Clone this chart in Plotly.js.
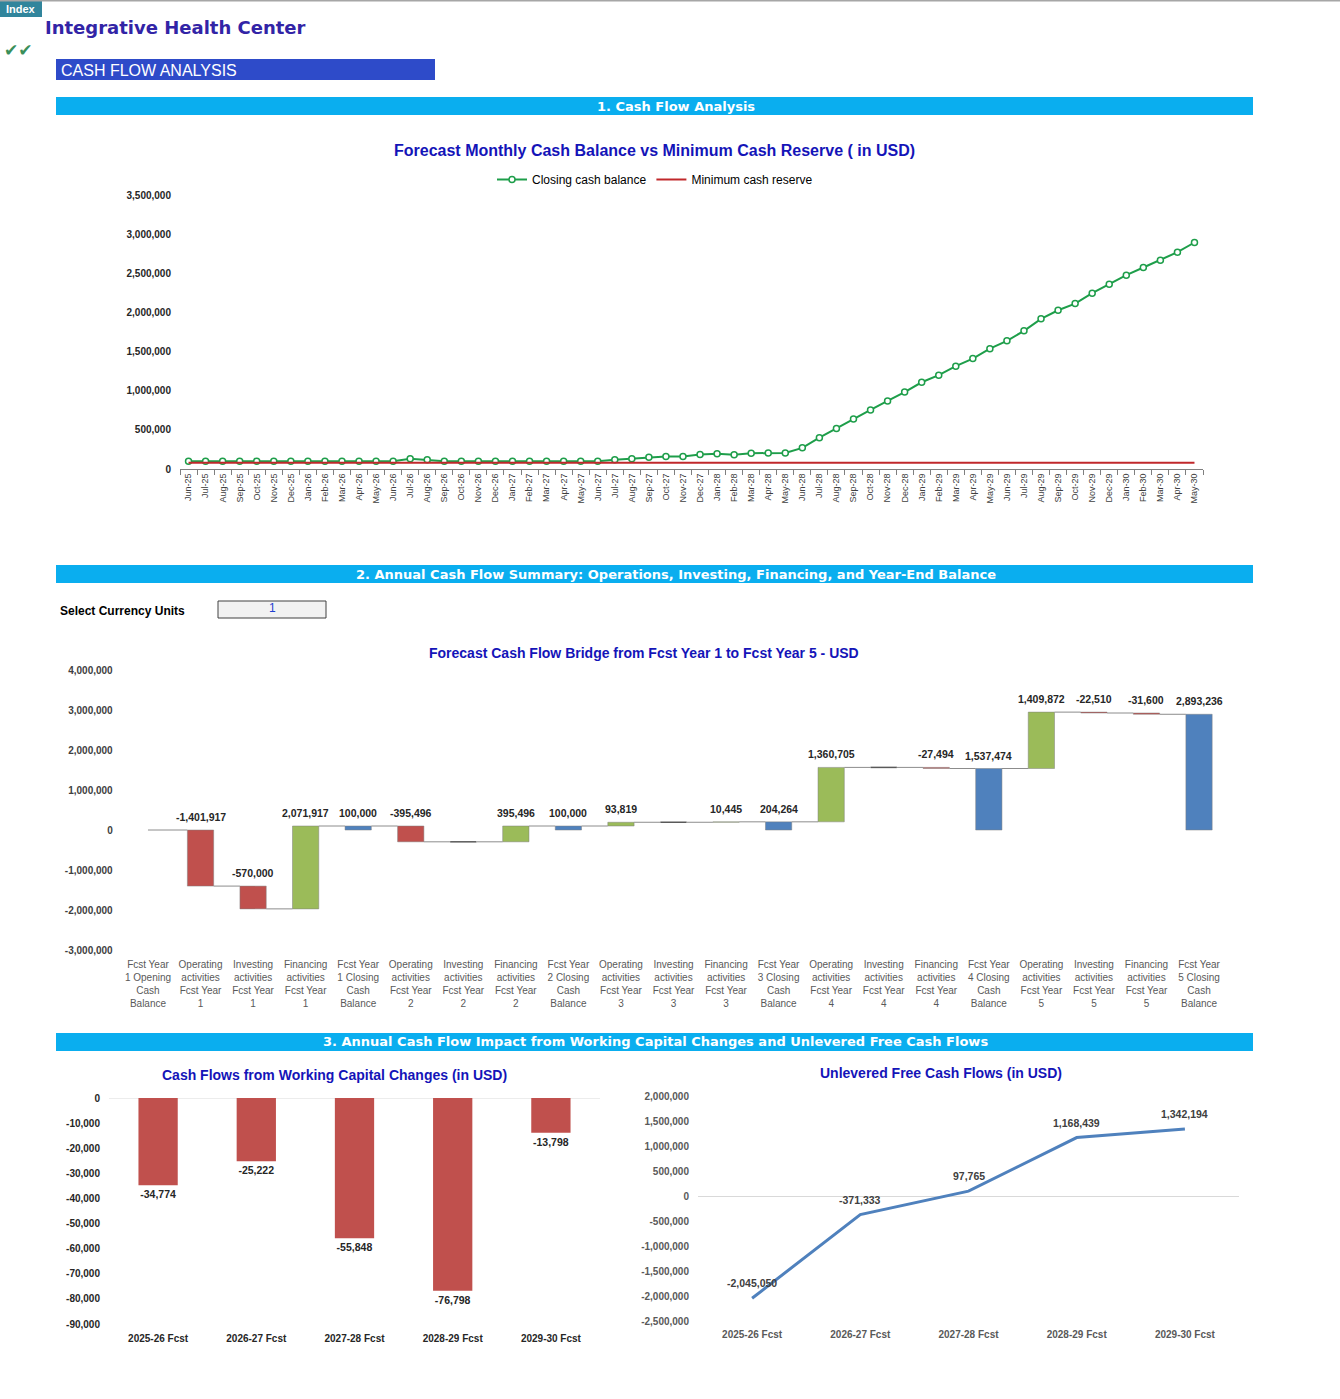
<!DOCTYPE html>
<html><head><meta charset="utf-8">
<script src="https://cdn.plot.ly/plotly-3.0.1.min.js"></script>
<style>html,body{margin:0;padding:0;background:#fff;} #chart{width:1340px;height:1399px;}</style>
</head><body><div id="chart"></div>
<script>
// ---------- DATA ----------
const months = ["Jun-25","Jul-25","Aug-25","Sep-25","Oct-25","Nov-25","Dec-25","Jan-26","Feb-26","Mar-26","Apr-26","May-26",
"Jun-26","Jul-26","Aug-26","Sep-26","Oct-26","Nov-26","Dec-26","Jan-27","Feb-27","Mar-27","Apr-27","May-27",
"Jun-27","Jul-27","Aug-27","Sep-27","Oct-27","Nov-27","Dec-27","Jan-28","Feb-28","Mar-28","Apr-28","May-28",
"Jun-28","Jul-28","Aug-28","Sep-28","Oct-28","Nov-28","Dec-28","Jan-29","Feb-29","Mar-29","Apr-29","May-29",
"Jun-29","Jul-29","Aug-29","Sep-29","Oct-29","Nov-29","Dec-29","Jan-30","Feb-30","Mar-30","Apr-30","May-30"];
const closingCash = [100000,100000,100000,100000,100000,100000,100000,100000,100000,100000,100000,100000,
100000,130000,117000,100000,100000,100000,100000,100000,100000,100000,100000,100000,
100000,117000,130000,151000,160000,159000,185000,194000,181000,202000,203000,204264,
270000,400000,518000,640000,755000,870000,982000,1108000,1198000,1313000,1411000,1537474,
1637000,1765000,1918000,2028000,2113000,2246000,2361000,2476000,2574000,2668000,2770000,2893236];
const minCashReserve = [80000,80000,80000,80000,80000,80000,80000,80000,80000,80000,80000,80000,
80000,80000,80000,80000,80000,80000,80000,80000,80000,80000,80000,80000,
80000,80000,80000,80000,80000,80000,80000,80000,80000,80000,80000,80000,
80000,80000,80000,80000,80000,80000,80000,80000,80000,80000,80000,80000,
80000,80000,80000,80000,80000,80000,80000,80000,80000,80000,80000,80000];
const monthlyTicks = [0,500000,1000000,1500000,2000000,2500000,3000000,3500000];

const bridgeLabels = [
"Fcst Year<br>1 Opening<br>Cash<br>Balance",
"Operating<br>activities<br>Fcst Year<br>1","Investing<br>activities<br>Fcst Year<br>1","Financing<br>activities<br>Fcst Year<br>1",
"Fcst Year<br>1 Closing<br>Cash<br>Balance",
"Operating<br>activities<br>Fcst Year<br>2","Investing<br>activities<br>Fcst Year<br>2","Financing<br>activities<br>Fcst Year<br>2",
"Fcst Year<br>2 Closing<br>Cash<br>Balance",
"Operating<br>activities<br>Fcst Year<br>3","Investing<br>activities<br>Fcst Year<br>3","Financing<br>activities<br>Fcst Year<br>3",
"Fcst Year<br>3 Closing<br>Cash<br>Balance",
"Operating<br>activities<br>Fcst Year<br>4","Investing<br>activities<br>Fcst Year<br>4","Financing<br>activities<br>Fcst Year<br>4",
"Fcst Year<br>4 Closing<br>Cash<br>Balance",
"Operating<br>activities<br>Fcst Year<br>5","Investing<br>activities<br>Fcst Year<br>5","Financing<br>activities<br>Fcst Year<br>5",
"Fcst Year<br>5 Closing<br>Cash<br>Balance"];
const bridgeMeasure = ["absolute","relative","relative","relative","total","relative","relative","relative","total",
"relative","relative","relative","total","relative","relative","relative","total","relative","relative","relative","total"];
const bridgeValues = [0,-1401917,-570000,2071917,100000,-395496,0,395496,100000,93819,0,10445,204264,
1360705,0,-27494,1537474,1409872,-22510,-31600,2893236];
const bridgeTicks = [-3000000,-2000000,-1000000,0,1000000,2000000,3000000,4000000];

const fcstYears = ["2025-26 Fcst","2026-27 Fcst","2027-28 Fcst","2028-29 Fcst","2029-30 Fcst"];
const workingCapital = [-34774,-25222,-55848,-76798,-13798];
const wcTicks = [0,-10000,-20000,-30000,-40000,-50000,-60000,-70000,-80000,-90000];
const unleveredFCF = [-2045050,-371333,97765,1168439,1342194];
const ufcfTicks = [2000000,1500000,1000000,500000,0,-500000,-1000000,-1500000,-2000000,-2500000];

// ---------- HELPERS ----------
const W = 1340, H = 1399;
const fmt = v => v.toLocaleString('en-US');
const dx = (a,b) => [a/W, b/W];
const dy = (top,bottom) => [1-bottom/H, 1-top/H];
const px = x => x/W, py = y => 1 - y/H;
const FONT = "Liberation Sans, Arial, sans-serif";
const WIDE = "DejaVu Sans, Verdana, sans-serif";
const NARROW = "Liberation Sans Narrow, Arial Narrow, Liberation Sans, Arial, sans-serif";
const TITLE_BLUE = "#1414B8";
const HALF = 0.25; // half bar width in category units (waterfallgap 0.5)

// ---------- TRACES ----------
const traces = [
 {type:'scatter', mode:'lines+markers', name:'Closing cash balance', x:months, y:closingCash, xaxis:'x', yaxis:'y',
  line:{color:'#1E9E4A', width:2}, marker:{symbol:'circle', size:6, color:'#ffffff', line:{color:'#1E9E4A', width:1.5}}},
 {type:'scatter', mode:'lines', name:'Minimum cash reserve', x:months, y:minCashReserve, xaxis:'x', yaxis:'y',
  line:{color:'#C0282B', width:2}},
 {type:'waterfall', x:bridgeLabels, y:bridgeValues, measure:bridgeMeasure, xaxis:'x2', yaxis:'y2', showlegend:false,
  increasing:{marker:{color:'#9BBB59', line:{color:'#7F7F7F', width:0.5}}},
  decreasing:{marker:{color:'#C0504D', line:{color:'#7F7F7F', width:0.5}}},
  totals:{marker:{color:'#4F81BD', line:{color:'#7F7F7F', width:0.5}}},
  connector:{visible:false}, textinfo:'none'},
 {type:'bar', x:fcstYears, y:workingCapital, xaxis:'x3', yaxis:'y3', showlegend:false,
  marker:{color:'#C0504D'}, text:workingCapital.map(fmt), texttemplate:'%{text}', textposition:'outside',
  textfont:{family:FONT, size:10.5, color:'#262626', weight:'bold'}, cliponaxis:false},
 {type:'scatter', mode:'lines', x:fcstYears, y:unleveredFCF, xaxis:'x4', yaxis:'y4', showlegend:false,
  line:{color:'#4F81BD', width:3}, cliponaxis:false}
];

const annotations = [];
const shapes = [];

// ---------- WATERFALL LABELS + CONNECTORS (from the data) ----------
let run = 0;
bridgeValues.forEach((v,i) => {
  let s, e;
  if (bridgeMeasure[i]==='absolute') { s=0; e=v; run=v; }
  else if (bridgeMeasure[i]==='relative') { s=run; e=run+v; run=e; }
  else { s=0; e=run; }
  if (i>0 && v!==0) {
    annotations.push({xref:'x2', yref:'y2', x:bridgeLabels[i], y:Math.max(s,e), text:fmt(v), showarrow:false,
      yanchor:'bottom', yshift:5, font:{family:FONT, size:10.5, color:'#262626', weight:'bold'}});
  }
  if (v===0 && i>0) {
    shapes.push({type:'line', xref:'x2', yref:'y2', x0:i-HALF, x1:i+HALF, y0:e, y1:e, line:{color:'#595959', width:1.5}});
  }
  if (i===0) {
    shapes.push({type:'line', xref:'x2', yref:'y2', x0:i, x1:i+1-HALF, y0:e, y1:e, line:{color:'#8C8C8C', width:1}});
  } else if (i < bridgeValues.length-1) {
    shapes.push({type:'line', xref:'x2', yref:'y2', x0:i+HALF, x1:i+1-HALF, y0:e, y1:e, line:{color:'#8C8C8C', width:1}});
  }
});

// ---------- UFCF LABELS ----------
unleveredFCF.forEach((v,i) => {
  annotations.push({xref:'x4', yref:'y4', x:fcstYears[i], y:v, text:fmt(v), showarrow:false, yanchor:'bottom', yshift:7,
    font:{family:FONT, size:10.5, color:'#404040', weight:'bold'}});
});

// ---------- PAGE TEXT ----------
const pageText = [
 {x:px(21), y:py(9), text:'Index', font:{size:11, color:'#ffffff', weight:'bold'}, xanchor:'center'},
 {x:px(43), y:py(27), text:'Integrative Health Center', font:{family:WIDE, size:18, color:'#3224A6', weight:'bold'}, xanchor:'left'},
 {x:px(2), y:py(50), text:'✔✔', font:{family:'DejaVu Sans', size:17, color:'#3A8F5A'}, xanchor:'left'},
 {x:px(59), y:py(70), text:'CASH FLOW ANALYSIS', font:{size:16, color:'#ffffff', weight:500}, xanchor:'left'},
 {x:px(676), y:py(106), text:'1. Cash Flow Analysis', font:{family:WIDE, size:13, color:'#ffffff', weight:'bold'}, xanchor:'center'},
 {x:px(676), y:py(574), text:'2. Annual Cash Flow Summary: Operations, Investing, Financing, and Year-End Balance', font:{family:WIDE, size:13, color:'#ffffff', weight:'bold'}, xanchor:'center'},
 {x:px(655), y:py(1041), text:'3. Annual Cash Flow Impact from Working Capital Changes and Unlevered Free Cash Flows', font:{family:WIDE, size:13, color:'#ffffff', weight:'bold'}, xanchor:'center'},
 {x:px(654), y:py(151), text:'Forecast Monthly Cash Balance vs Minimum Cash Reserve ( in USD)', font:{size:16, color:TITLE_BLUE, weight:'bold'}, xanchor:'center'},
 {x:px(58), y:py(611), text:'Select Currency Units', font:{size:12, color:'#000000', weight:'bold'}, xanchor:'left'},
 {x:px(272), y:py(608), text:'1', font:{size:12, color:'#1F3FD0'}, xanchor:'center'},
 {x:px(644), y:py(653), text:'Forecast Cash Flow Bridge from Fcst Year 1 to Fcst Year 5 - USD', font:{size:14, color:TITLE_BLUE, weight:'bold'}, xanchor:'center'},
 {x:px(334), y:py(1075), text:'Cash Flows from Working Capital Changes (in USD)', font:{size:14, color:TITLE_BLUE, weight:'bold'}, xanchor:'center'},
 {x:px(941), y:py(1073), text:'Unlevered Free Cash Flows (in USD)', font:{size:14, color:TITLE_BLUE, weight:'bold'}, xanchor:'center'}
];
pageText.forEach(a => { a.xref='paper'; a.yref='paper'; a.showarrow=false; a.yanchor='middle'; a.font.family = a.font.family || FONT; annotations.push(a); });

const rect = (x0,y0,x1,y1,fill,line) => ({type:'rect', xref:'paper', yref:'paper', x0:px(x0), x1:px(x1), y0:py(y1), y1:py(y0),
  fillcolor:fill, line:line||{width:0}, layer:'below'});
shapes.push(
 {type:'line', xref:'paper', yref:'paper', x0:0, x1:1, y0:py(0.7), y1:py(0.7), line:{color:'#A6A6A6', width:1.5}},
 rect(0,0,42,17,'#31859C'),
 rect(56,59,435,80,'#2E4BC9'),
 rect(56,97,1253,115,'#0AAEEF'),
 rect(56,565,1253,583,'#0AAEEF'),
 rect(56,1033,1253,1051,'#0AAEEF'),
 rect(218,601,326,618,'#F2F2F2',{color:'#404040', width:1}),
 {type:'line', xref:'x3 domain', yref:'y3', x0:0, x1:1, y0:0, y1:0, line:{color:'#D9D9D9', width:1}, layer:'below'}
);

const yTick = (vals, color) => ({tickmode:'array', tickvals:vals, ticktext:vals.map(fmt), showgrid:false, zeroline:false, showline:false,
  tickfont:{family:FONT, size:10, color:color||'#262626', weight:'bold'}, ticks:'', ticklabelstandoff:8, fixedrange:true});

const layout = {
  width:W, height:H, margin:{l:0,r:0,t:0,b:0}, paper_bgcolor:'#ffffff', plot_bgcolor:'#ffffff',
  font:{family:FONT}, showlegend:true, waterfallgap:0.5, bargap:0.6, hovermode:false,
  legend:{orientation:'h', x:px(655), xanchor:'center', y:py(165), yanchor:'top', font:{family:FONT, size:12, color:'#000000'},
    bgcolor:'rgba(0,0,0,0)', itemwidth:30, tracegroupgap:0},
  xaxis:{domain:dx(180,1203), anchor:'y', type:'category', range:[-0.5,59.5], tickangle:-90, showgrid:false, zeroline:false,
    showline:true, linecolor:'#7F7F7F', linewidth:1, ticks:'outside', tickson:'boundaries', ticklen:5, tickcolor:'#7F7F7F',
    tickfont:{family:FONT, size:9, color:'#404040'}, fixedrange:true},
  yaxis:Object.assign({domain:dy(195,469), anchor:'x', range:[0,3500000]}, yTick(monthlyTicks)),
  xaxis2:{domain:dx(121.7,1225.3), anchor:'y2', type:'category', range:[-0.5,20.5], showgrid:false, zeroline:false, showline:false,
    ticks:'', ticklabelstandoff:7, tickfont:{family:NARROW, size:10, color:'#595959'}, fixedrange:true},
  yaxis2:Object.assign({domain:dy(670,950), anchor:'x2', range:[-3000000,4000000]}, yTick(bridgeTicks, '#404040')),
  xaxis3:{domain:dx(109,600), anchor:'y3', type:'category', range:[-0.5,4.5], showgrid:false, zeroline:false, showline:false,
    ticks:'', ticklabelstandoff:7, tickfont:{family:FONT, size:10, color:'#262626', weight:'bold'}, fixedrange:true},
  yaxis3:Object.assign({domain:dy(1098,1324), anchor:'x3', range:[-90000,0]}, yTick(wcTicks, '#262626')),
  xaxis4:{domain:dx(698,1239), anchor:'y4', type:'category', range:[-0.5,4.5], showgrid:false, zeroline:false, showline:false,
    ticks:'', ticklabelstandoff:6, tickfont:{family:FONT, size:10, color:'#595959', weight:'bold'}, fixedrange:true},
  yaxis4:Object.assign({domain:dy(1096,1321), anchor:'x4', range:[-2500000,2000000]}, yTick(ufcfTicks, '#595959'), {zeroline:true, zerolinecolor:'#D9D9D9', zerolinewidth:1}),
  annotations:annotations, shapes:shapes
};

Plotly.newPlot('chart', traces, layout, {displayModeBar:false, staticPlot:true});
</script></body></html>
